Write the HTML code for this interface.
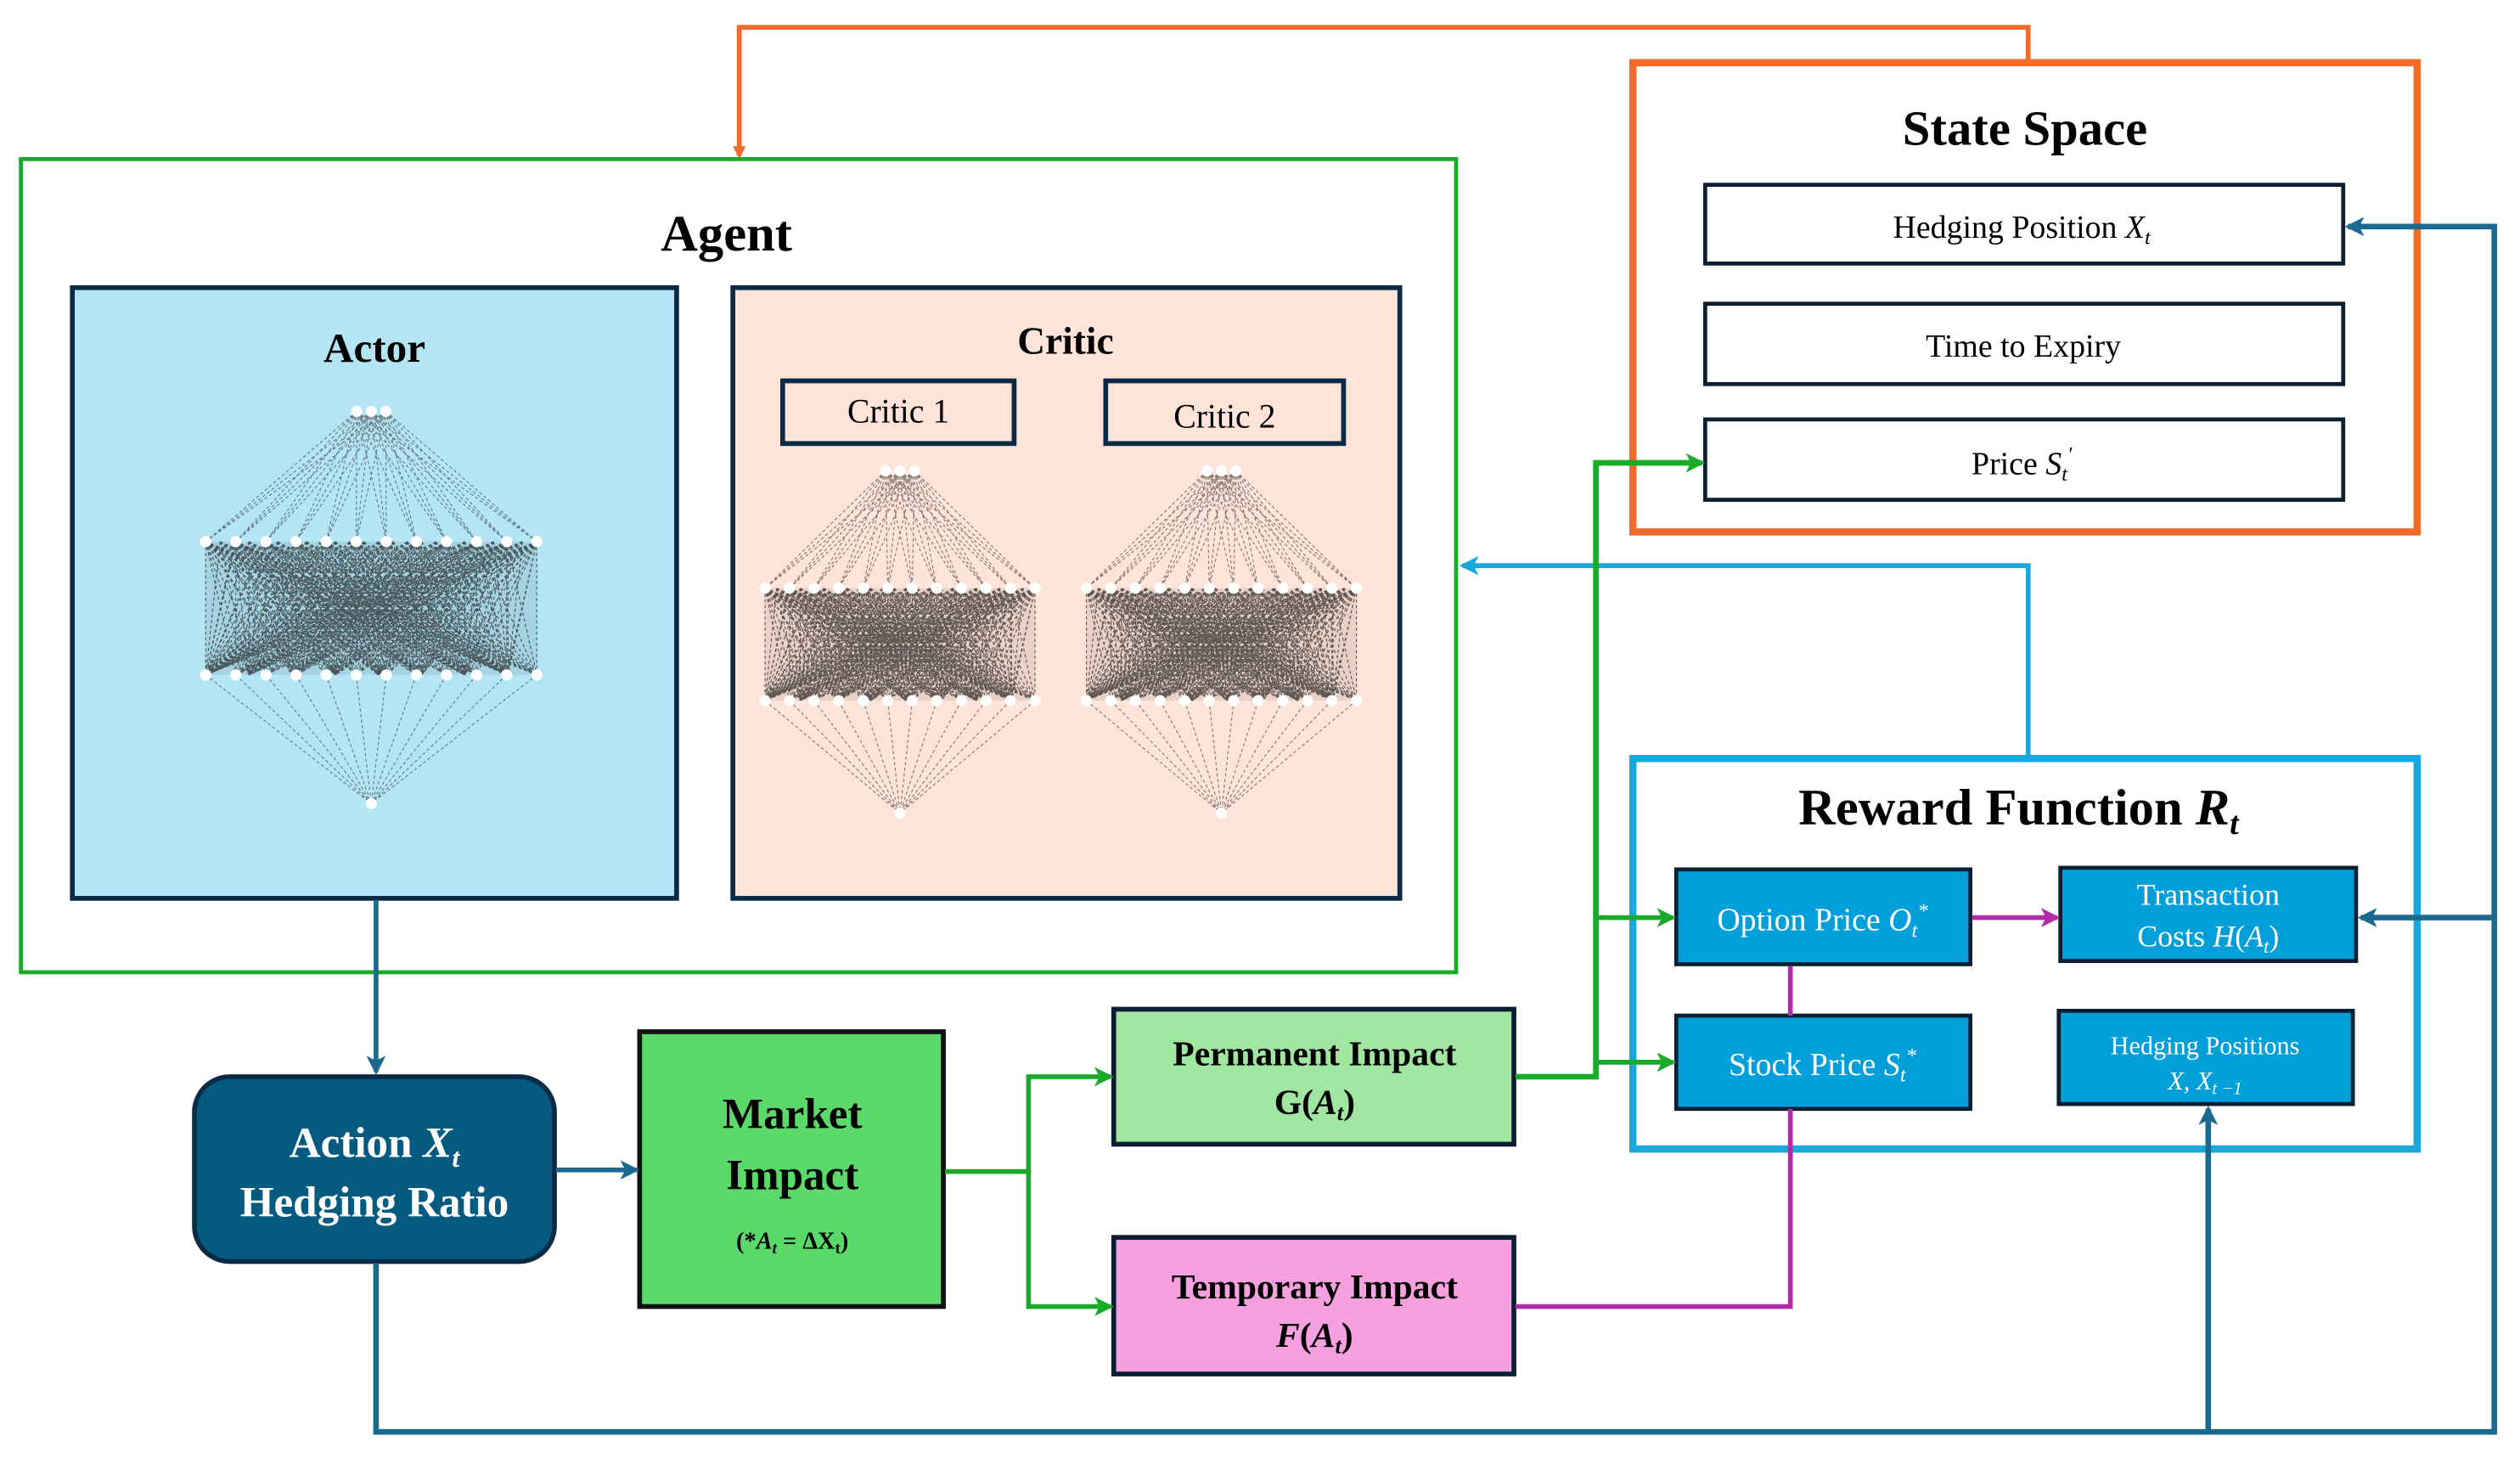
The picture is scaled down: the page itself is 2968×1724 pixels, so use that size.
<!DOCTYPE html>
<html><head><meta charset="utf-8"><style>
html,body{margin:0;padding:0;background:#fff}
svg{display:block}
text{font-family:"Liberation Serif",serif}
</style></head><body>
<svg id="s" width="2968" height="1724" viewBox="0 0 1568 911" preserveAspectRatio="none" xmlns="http://www.w3.org/2000/svg">
<defs>
<marker id="aO" markerWidth="8" markerHeight="8" refX="6" refY="4" orient="auto" markerUnits="userSpaceOnUse"><path d="M0,0 L8,4 L0,8 z" fill="#f26b2a"/></marker>
<marker id="aB" markerWidth="12" markerHeight="12" refX="10" refY="6" orient="auto" markerUnits="userSpaceOnUse"><path d="M0,0 L12,6 L0,12 L3,6 z" fill="#1a6a8f"/></marker>
<marker id="aL" markerWidth="12" markerHeight="12" refX="10" refY="6" orient="auto" markerUnits="userSpaceOnUse"><path d="M0,0 L12,6 L0,12 L3,6 z" fill="#1aa7dc"/></marker>
<marker id="aG" markerWidth="12" markerHeight="12" refX="10" refY="6" orient="auto" markerUnits="userSpaceOnUse"><path d="M0,0 L12,6 L0,12 L3,6 z" fill="#1aaa2a"/></marker>
<marker id="aM" markerWidth="12" markerHeight="12" refX="10" refY="6" orient="auto" markerUnits="userSpaceOnUse"><path d="M0,0 L12,6 L0,12 L3,6 z" fill="#b02ca8"/></marker>
</defs>

<polyline points="1262,38 1262,17 460,17 460,97" fill="none" stroke="#f26b2a" stroke-width="3" marker-end="url(#aO)"/>

<rect x="13" y="99" width="893" height="506" fill="#fff" stroke="#1aaa2a" stroke-width="2.5"/>
<text x="452" y="156" font-size="32" font-weight="bold" text-anchor="middle">Agent</text>
<rect x="45" y="179" width="376" height="380" fill="#b3e5f5" stroke="#0b2a45" stroke-width="3"/>
<text x="233" y="225" font-size="26" font-weight="bold" text-anchor="middle">Actor</text>
<rect x="456" y="179" width="415" height="380" fill="#fde3d8" stroke="#0b2a45" stroke-width="3"/>
<text x="663" y="220" font-size="24" font-weight="bold" text-anchor="middle">Critic</text>
<rect x="487" y="237" width="144" height="39" fill="#fde3d8" stroke="#0b2a45" stroke-width="3"/>
<text x="559" y="263" font-size="21" text-anchor="middle">Critic 1</text>
<rect x="688" y="237" width="148" height="39" fill="#fde3d8" stroke="#0b2a45" stroke-width="3"/>
<text x="762" y="266" font-size="21" text-anchor="middle">Critic 2</text>
<g id="nets"></g>

<rect x="1016" y="39" width="488" height="292" fill="#fff" stroke="#f26b2a" stroke-width="4.5"/>
<text x="1260" y="90" font-size="31" font-weight="bold" text-anchor="middle">State Space</text>
<rect x="1061" y="115" width="397" height="49" fill="#fff" stroke="#0b1f33" stroke-width="2.5"/>
<text x="1258" y="148" font-size="20" text-anchor="middle">Hedging Position <tspan font-style="italic">X<tspan font-size="13" dy="4">t</tspan></tspan></text>
<rect x="1061" y="189" width="397" height="50" fill="#fff" stroke="#0b1f33" stroke-width="2.5"/>
<text x="1259" y="222" font-size="20" text-anchor="middle">Time to Expiry</text>
<rect x="1061" y="261" width="397" height="50" fill="#fff" stroke="#0b1f33" stroke-width="2.5"/>
<text x="1258" y="295" font-size="20" text-anchor="middle">Price <tspan font-style="italic">S<tspan font-size="13" dy="4">t</tspan><tspan font-size="13" dy="-12">′</tspan></tspan></text>

<polyline points="1262,471 1262,352 910,352" fill="none" stroke="#1aa7dc" stroke-width="3" marker-end="url(#aL)"/>

<rect x="1016" y="472" width="488" height="243" fill="#fff" stroke="#1aa7dc" stroke-width="4.5"/>
<text x="1256" y="513" font-size="32" font-weight="bold" text-anchor="middle">Reward Function <tspan font-style="italic">R<tspan font-size="20" dy="6">t</tspan></tspan></text>
<rect x="1043" y="541" width="183" height="59" fill="#009fda" stroke="#0b1f33" stroke-width="2.5"/>
<text x="1134" y="579" font-size="20" fill="#fff" text-anchor="middle">Option Price <tspan font-style="italic">O<tspan font-size="13" dy="4">t</tspan><tspan font-size="13" dy="-12">*</tspan></tspan></text>
<rect x="1282" y="540" width="184" height="58" fill="#009fda" stroke="#0b1f33" stroke-width="2.5"/>
<text x="1374" y="563" font-size="19" fill="#fff" text-anchor="middle">Transaction</text>
<text x="1374" y="589" font-size="19" fill="#fff" text-anchor="middle">Costs <tspan font-style="italic">H</tspan>(<tspan font-style="italic">A<tspan font-size="12" dy="4">t</tspan></tspan><tspan dy="-4">)</tspan></text>
<rect x="1043" y="632" width="183" height="58" fill="#009fda" stroke="#0b1f33" stroke-width="2.5"/>
<text x="1134" y="669" font-size="20" fill="#fff" text-anchor="middle">Stock Price <tspan font-style="italic">S<tspan font-size="13" dy="4">t</tspan><tspan font-size="13" dy="-12">*</tspan></tspan></text>
<rect x="1281" y="629" width="183" height="58" fill="#009fda" stroke="#0b1f33" stroke-width="2.5"/>
<text x="1372" y="656" font-size="16" fill="#fff" text-anchor="middle">Hedging Positions</text>
<text x="1372" y="678" font-size="16" fill="#fff" text-anchor="middle" font-style="italic">X, X<tspan font-size="11" dy="3">t −1</tspan></text>

<rect x="121" y="670" width="224" height="115" rx="22" fill="#055a80" stroke="#0b2a45" stroke-width="3"/>
<text x="233" y="720" font-size="27" font-weight="bold" fill="#fff" text-anchor="middle">Action <tspan font-style="italic">X<tspan font-size="17" dy="6">t</tspan></tspan></text>
<text x="233" y="757" font-size="27" font-weight="bold" fill="#fff" text-anchor="middle">Hedging Ratio</text>

<rect x="398" y="642" width="189" height="171" fill="#5bd96b" stroke="#111" stroke-width="3"/>
<text x="493" y="702" font-size="27" font-weight="bold" text-anchor="middle">Market</text>
<text x="493" y="740" font-size="27" font-weight="bold" text-anchor="middle">Impact</text>
<text x="493" y="777" font-size="15" font-weight="bold" text-anchor="middle">(*<tspan font-style="italic">A<tspan font-size="10" dy="3">t</tspan></tspan><tspan dy="-3"> = ΔX</tspan><tspan font-size="10" dy="3">t</tspan><tspan dy="-3">)</tspan></text>

<rect x="693" y="628" width="249" height="84" fill="#a0e6a0" stroke="#0b1f33" stroke-width="3"/>
<text x="818" y="663" font-size="22" font-weight="bold" text-anchor="middle">Permanent Impact</text>
<text x="818" y="693" font-size="22" font-weight="bold" text-anchor="middle">G(<tspan font-style="italic">A<tspan font-size="14" dy="4">t</tspan></tspan><tspan dy="-4">)</tspan></text>
<rect x="693" y="770" width="249" height="85" fill="#f7a0e0" stroke="#0b1f33" stroke-width="3"/>
<text x="818" y="808" font-size="22" font-weight="bold" text-anchor="middle">Temporary Impact</text>
<text x="818" y="838" font-size="22" font-weight="bold" text-anchor="middle"><tspan font-style="italic">F</tspan>(<tspan font-style="italic">A<tspan font-size="14" dy="4">t</tspan></tspan><tspan dy="-4">)</tspan></text>

<line x1="234" y1="560" x2="234" y2="667" stroke="#1a6a8f" stroke-width="3" marker-end="url(#aB)"/>
<line x1="346" y1="728" x2="396" y2="728" stroke="#1a6a8f" stroke-width="3" marker-end="url(#aB)"/>
<polyline points="234,786 234,891 1552,891 1552,141 1461,141" fill="none" stroke="#1a6a8f" stroke-width="3.5" marker-end="url(#aB)"/>
<line x1="1374" y1="891" x2="1374" y2="690" stroke="#1a6a8f" stroke-width="3.5" marker-end="url(#aB)"/>
<line x1="1552" y1="571" x2="1469" y2="571" stroke="#1a6a8f" stroke-width="3.5" marker-end="url(#aB)"/>

<polyline points="588,729 640,729 640,670 691,670" fill="none" stroke="#1aaa2a" stroke-width="3" marker-end="url(#aG)"/>
<polyline points="640,729 640,813 691,813" fill="none" stroke="#1aaa2a" stroke-width="3" marker-end="url(#aG)"/>
<polyline points="943,670 993,670 993,288 1059,288" fill="none" stroke="#1aaa2a" stroke-width="3.5" marker-end="url(#aG)"/>
<line x1="993" y1="571" x2="1041" y2="571" stroke="#1aaa2a" stroke-width="3" marker-end="url(#aG)"/>
<line x1="993" y1="661" x2="1041" y2="661" stroke="#1aaa2a" stroke-width="3" marker-end="url(#aG)"/>

<polyline points="943,813 1114,813 1114,690" fill="none" stroke="#b02ca8" stroke-width="3"/>
<line x1="1114" y1="632" x2="1114" y2="601" stroke="#b02ca8" stroke-width="3"/>
<line x1="1227" y1="571" x2="1280" y2="571" stroke="#b02ca8" stroke-width="3" marker-end="url(#aM)"/>
</svg>
<script>
(function(){
var g=document.getElementById('nets'),h='';
function net(cx,top,mid,bot,apex,hw){
 var L0=[],L1=[],L2=[],i,j;
 for(i=-1;i<=1;i++)L0.push([cx+i*9,top]);
 for(i=0;i<12;i++){L1.push([cx-hw+i*(2*hw/11),mid]);L2.push([cx-hw+i*(2*hw/11),bot]);}
 var s='',m='';
 L0.forEach(function(a){L1.forEach(function(b){s+='M'+a[0]+','+a[1]+'L'+b[0]+','+b[1];});});
 L1.forEach(function(a){L2.forEach(function(b){m+='M'+a[0]+','+a[1]+'L'+b[0]+','+b[1];});});
 for(i=0;i<24;i++){var x1=cx-hw+i*(2*hw/23);for(j=0;j<24;j+=3){var x2=cx-hw+j*(2*hw/23);m+='M'+x1+','+mid+'L'+x2+','+bot;}}
 L2.forEach(function(a){s+='M'+a[0]+','+a[1]+'L'+cx+','+apex;});
 h+='<rect x="'+(cx-hw)+'" y="'+mid+'" width="'+(2*hw)+'" height="'+(bot-mid)+'" fill="#000" opacity="0.08"/>';
 h+='<path d="'+s+'" stroke="#333" stroke-width="0.6" stroke-dasharray="2,1.5" opacity="0.6" fill="none"/>';
 h+='<path d="'+m+'" stroke="#222" stroke-width="0.6" stroke-dasharray="2,1.5" opacity="0.7" fill="none"/>';
 L0.concat(L1,L2,[[cx,apex]]).forEach(function(p){h+='<circle cx="'+p[0]+'" cy="'+p[1]+'" r="3.5" fill="#fff"/>';});
}
net(231,256,337,420,500,103);
net(560,293,366,436,506,84);
net(760,293,366,436,506,84);
g.innerHTML=h;
})();
</script>
</body></html>
